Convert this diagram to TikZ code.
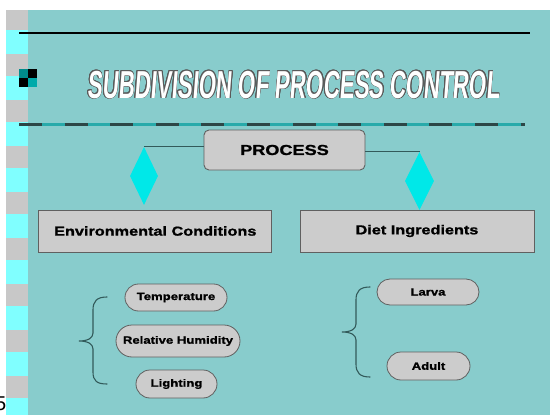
\documentclass[tikz,border=0pt]{standalone}
\usepackage{fontspec}
\setmainfont{Liberation Sans}
\newfontfamily\boxfont{Liberation Sans}[FakeStretch=1.25,FakeBold=1.2]
\newfontfamily\titlefont{Liberation Sans}[FakeStretch=0.57,FakeSlant=0.08]
\usepackage[copies]{contour}
\usepackage{tikz}
\usetikzlibrary{shapes.geometric}
\usetikzlibrary{shapes.misc}
\usepackage{xcolor}

\definecolor{slide}{RGB}{136,204,204}
\definecolor{stripgray}{RGB}{200,200,200}
\definecolor{stripcyan}{RGB}{128,255,255}
\definecolor{boxgray}{RGB}{204,204,204}
\definecolor{boxline}{RGB}{96,96,96}
\definecolor{linkline}{RGB}{50,90,90}
\definecolor{kite}{RGB}{0,232,232}
\definecolor{dashbase}{RGB}{40,170,170}
\definecolor{dashdark}{RGB}{45,70,70}
\definecolor{icondark}{RGB}{0,140,140}
\definecolor{iconlight}{RGB}{0,170,170}
\definecolor{titleedge}{RGB}{90,90,90}

\contourlength{0.7pt}

\begin{document}
\begin{tikzpicture}[x=1pt,y=-1pt,
  box/.style={draw=boxline,fill=boxgray,line width=0.9pt,inner sep=0pt,
    font=\boxfont\bfseries\fontsize{13}{15}\selectfont},
  pill/.style={rounded rectangle,draw=boxline,fill=boxgray,line width=0.8pt,inner sep=0pt,
    font=\boxfont\bfseries\fontsize{10.5}{12}\selectfont},
  kitenode/.style={diamond,fill=kite,inner sep=0pt,minimum width=28pt,minimum height=58pt},
  link/.style={draw=linkline,line width=1pt},
  brace/.style={draw=linkline,line width=1.1pt,line cap=round}]
  \useasboundingbox (0,0) rectangle (550,415);
  \fill[white] (0,0) rectangle (550,415);

  % slide background and the side strip
  \fill[slide] (6,10) rectangle (550,415);
  \fill[stripgray] (6,10) rectangle (28,415);
  \foreach \y in {30,76,...,398}
    \fill[stripcyan] (6,\y) rectangle (28,\y+24);

  % header rules and bullet
  \draw[line width=2pt] (19,33) -- (530,33);
  \fill[iconlight] (19,69) rectangle (37,87);
  \fill[icondark] (19,69) rectangle (28,78);
  \fill[black] (28,69) rectangle (37,78);
  \fill[black] (19,78) rectangle (28,87);
  \draw[line width=3pt,dashbase] (19,124) -- (525,124);
  \draw[line width=3pt,dashdark,dash pattern=on 23pt off 22.6pt] (19,124) -- (525,124);

  % title, outlined
  \node[text=white,font=\titlefont\bfseries\fontsize{39}{40}\selectfont,inner sep=0pt]
    (title) at (293.5,85) {\contour{titleedge}{SUBDIVISION OF PROCESS CONTROL}};

  % tree
  \node[box,rounded corners=5pt,minimum width=161pt,minimum height=40pt,
    font=\boxfont\bfseries\fontsize{14.5}{16}\selectfont] (process) at (284.5,150) {PROCESS};
  \node[kitenode] (kiteL) at (144,176) {};
  \node[kitenode,minimum width=29pt] (kiteR) at (419.5,181) {};
  \draw[link] (kiteL.north) -- (kiteL.north -| process.west);
  \draw[link] (kiteR.north) -- (kiteR.north -| process.east);

  \node[box,minimum width=233pt,minimum height=42pt] (env) at (155.3,231) {Environmental Conditions};
  \node[box,minimum width=234pt,minimum height=42pt] (diet) at (417,231) {Diet Ingredients};

  % sub items
  \node[pill,minimum width=102pt,minimum height=27pt] (temp) at (176,297.5) {Temperature};
  \node[pill,minimum width=124pt,minimum height=32pt] (humid) at (178,341) {Relative Humidity};
  \node[pill,minimum width=81pt,minimum height=28pt] (light) at (176.5,384) {Lighting};
  \node[pill,minimum width=102pt,minimum height=26pt] (larva) at (428,292) {Larva};
  \node[pill,minimum width=83pt,minimum height=28pt] (adult) at (428.5,366) {Adult};

  % braces
  \draw[brace] (107,297) .. controls (97,297) and (93,301) .. (93,310) -- (93,333)
    .. controls (93,338) and (88,341) .. (79,341)
    .. controls (88,341) and (93,344) .. (93,349) -- (93,372)
    .. controls (93,381) and (97,384) .. (107,384);
  \draw[brace] (370,287) .. controls (360,287) and (356,291) .. (356,300) -- (356,324)
    .. controls (356,329) and (351,332) .. (342,332)
    .. controls (351,332) and (356,335) .. (356,340) -- (356,364)
    .. controls (356,373) and (360,377) .. (370,377);

  \node[anchor=north east,inner sep=0pt,font=\fontsize{20}{20}\selectfont] (pagenum) at (6.5,397) {5};
\end{tikzpicture}
\end{document}
